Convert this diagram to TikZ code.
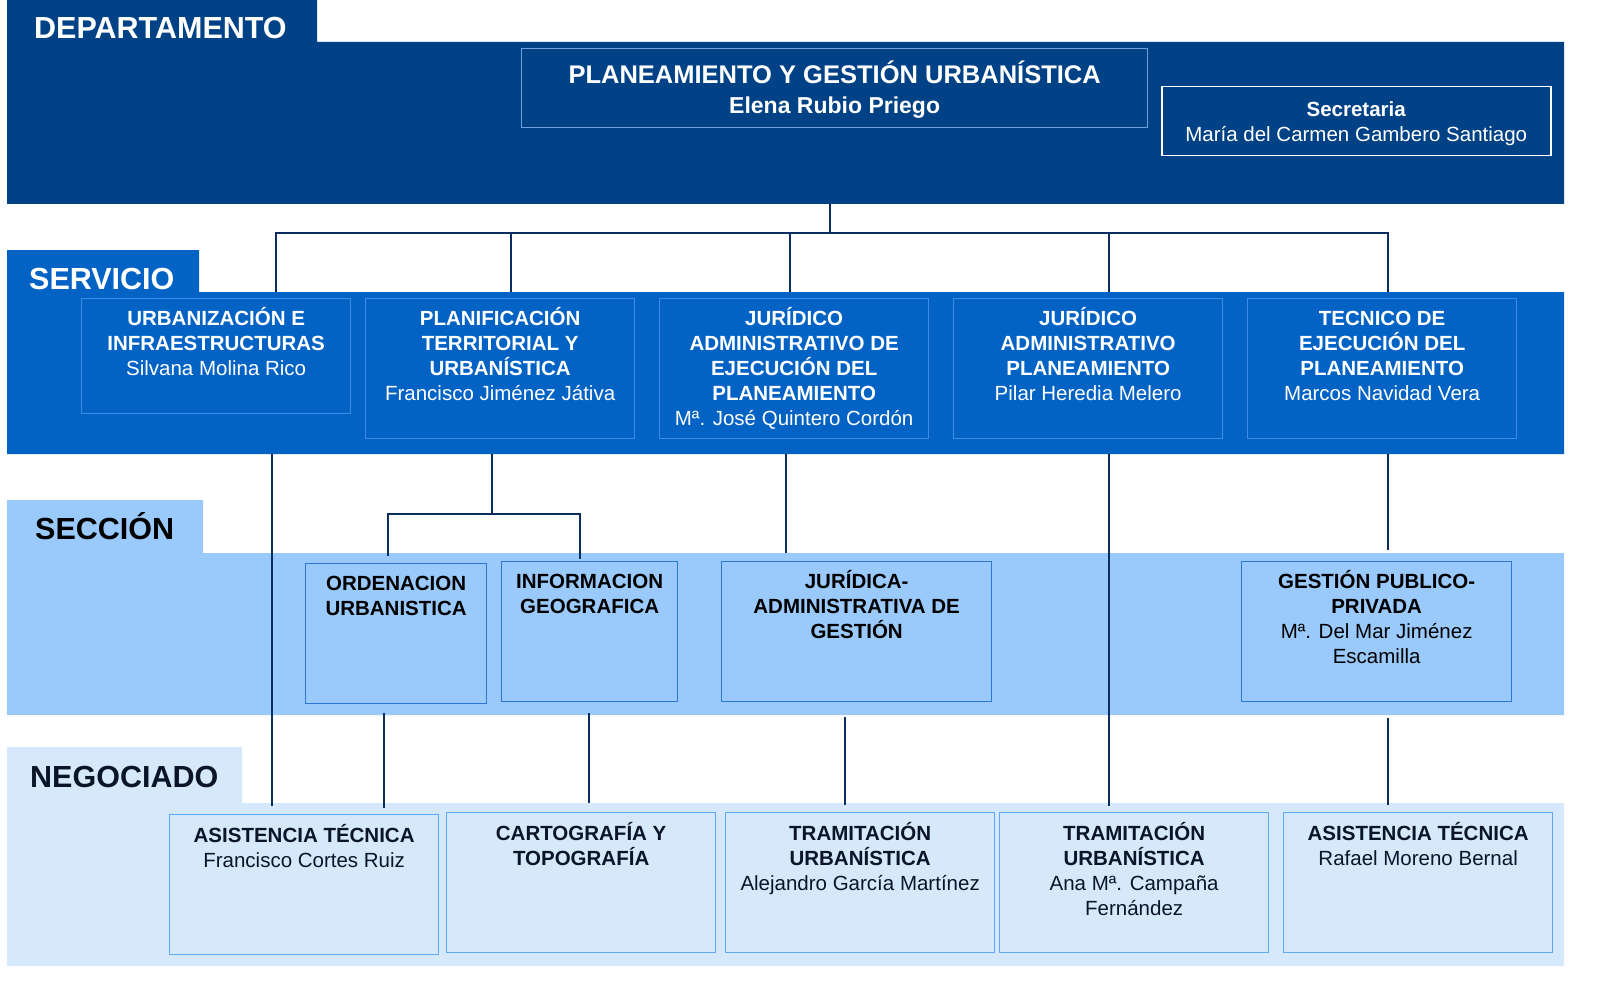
\documentclass[tikz,border=0pt]{standalone}
\usepackage{fontspec}
\setmainfont{Liberation Sans}
\definecolor{deptc}{RGB}{0,66,133}
\definecolor{servc}{RGB}{3,99,197}
\definecolor{seccc}{RGB}{153,202,251}
\definecolor{negoc}{RGB}{214,232,252}
\definecolor{linec}{RGB}{12,46,94}
\definecolor{servb}{RGB}{60,140,230}
\definecolor{seccb}{RGB}{45,120,215}
\definecolor{negob}{RGB}{95,168,245}
\definecolor{titleb}{RGB}{110,160,220}
\definecolor{negotext}{RGB}{10,22,40}
\newcommand{\bxt}[4]{\begin{minipage}[t][#2pt][t]{#1pt}\centering\rule{0pt}{#3pt}#4\end{minipage}}
\begin{document}
\begin{tikzpicture}[x=1pt,y=-1pt,
  bandlabel/.style={font=\fontsize{30.5}{34}\selectfont\bfseries, inner sep=0, anchor=base west},
  boxbase/.style={line width=1.3pt, inner sep=0, anchor=north west, font=\fontsize{20.5}{25}\selectfont},
  servbox/.style={boxbase, draw=servb, text=white},
  seccbox/.style={boxbase, draw=seccb, text=black},
  negobox/.style={boxbase, draw=negob, text=negotext},
  conn/.style={draw=linec, line width=2.4pt}]
\useasboundingbox (0,0) rectangle (1614,995);

% bands
\fill[deptc] (7,0) -- (317,0) -- (317,42) -- (1564,42) -- (1564,204) -- (7,204) -- cycle;
\fill[servc] (7,250) -- (199,250) -- (199,292) -- (1564,292) -- (1564,454) -- (7,454) -- cycle;
\fill[seccc] (7,500) -- (203,500) -- (203,553) -- (1564,553) -- (1564,715) -- (7,715) -- cycle;
\fill[negoc] (7,747) -- (242,747) -- (242,803) -- (1564,803) -- (1564,966) -- (7,966) -- cycle;

\node[bandlabel, text=white] (ldept) at (34,39) {DEPARTAMENTO};
\node[bandlabel, text=white] (lserv) at (29,289) {SERVICIO};
\node[bandlabel, text=black] (lsecc) at (35,539) {SECCIÓN};
\node[bandlabel, text=negotext] (lnego) at (30,787) {NEGOCIADO};

% department
\node[draw=titleb, line width=1.3pt, inner sep=0, anchor=north west, text=white] (top) at (521,48)
  {\begin{minipage}[t][79pt][t]{626pt}\centering\fontsize{25.5}{30}\selectfont\bfseries\rule{0pt}{35pt}PLANEAMIENTO Y GESTIÓN URBANÍSTICA\\{\fontsize{23}{30}\selectfont Elena Rubio Priego}\end{minipage}};
\node[draw=white, line width=1.5pt, inner sep=0, anchor=north west, text=white, font=\fontsize{20.5}{25}\selectfont] (secr) at (1161,86)
  {\bxt{389}{69}{29.3}{\textbf{Secretaria}\\María del Carmen Gambero Santiago}};

% connectors (drawn before boxes)
\coordinate (d0) at (830,204);
\coordinate (d1) at (830,233);
\coordinate (hl) at (276,233);
\coordinate (hr) at (1388,233);
\foreach \x/\n in {276/a,511/b,790/c,1109/d,1388/e}{
  \coordinate (t\n) at (\x,233);
  \coordinate (b\n) at (\x,292);
}
\draw[conn] (d0) -- (d1);
\draw[conn, line cap=rect] (hl) -- (hr);
\foreach \n in {a,b,c,d,e}{\draw[conn] (t\n) -- (b\n);}

% servicio -> seccion / negociado
\coordinate (s1a) at (272,454); \coordinate (s1b) at (272,806);
\coordinate (s2a) at (492,454); \coordinate (s2b) at (492,514);
\coordinate (s2l) at (388,514); \coordinate (s2r) at (580,514);
\coordinate (s2ld) at (388,556); \coordinate (s2rd) at (580,559);
\coordinate (s3a) at (786,454); \coordinate (s3b) at (786,553);
\coordinate (s4a) at (1109,454); \coordinate (s4b) at (1109,806);
\coordinate (s5a) at (1388,454); \coordinate (s5b) at (1388,550);
\draw[conn] (s1a) -- (s1b);
\draw[conn] (s2a) -- (s2b);
\draw[conn] (s2ld) -- (s2l) -- (s2r) -- (s2rd);
\draw[conn] (s3a) -- (s3b);
\draw[conn] (s4a) -- (s4b);
\draw[conn] (s5a) -- (s5b);

% seccion -> negociado
\coordinate (c1a) at (384,713); \coordinate (c1b) at (384,808);
\coordinate (c2a) at (589,713); \coordinate (c2b) at (589,803);
\coordinate (c3a) at (845,717); \coordinate (c3b) at (845,805);
\coordinate (c4a) at (1388,718); \coordinate (c4b) at (1388,805);
\draw[conn] (c1a) -- (c1b);
\draw[conn] (c2a) -- (c2b);
\draw[conn] (c3a) -- (c3b);
\draw[conn] (c4a) -- (c4b);

% servicio boxes
\node[servbox] (sv1) at (81,298) {\bxt{269}{115}{27.3}{\bfseries URBANIZACIÓN E\\INFRAESTRUCTURAS\\\mdseries Silvana Molina Rico}};
\node[servbox] (sv2) at (365,298) {\bxt{269}{140}{27.3}{\bfseries PLANIFICACIÓN\\TERRITORIAL Y\\URBANÍSTICA\\\mdseries Francisco Jiménez Játiva}};
\node[servbox] (sv3) at (659,298) {\bxt{269}{140}{27.3}{\bfseries JURÍDICO\\ADMINISTRATIVO DE\\EJECUCIÓN DEL\\PLANEAMIENTO\\\mdseries Mª. José Quintero Cordón}};
\node[servbox] (sv4) at (953,298) {\bxt{269}{140}{27.3}{\bfseries JURÍDICO\\ADMINISTRATIVO\\PLANEAMIENTO\\\mdseries Pilar Heredia Melero}};
\node[servbox] (sv5) at (1247,298) {\bxt{269}{140}{27.3}{\bfseries TECNICO DE\\EJECUCIÓN DEL\\PLANEAMIENTO\\\mdseries Marcos Navidad Vera}};

% seccion boxes
\node[seccbox] (sc1) at (305,563) {\bxt{181}{140}{27.3}{\bfseries ORDENACION\\URBANISTICA}};
\node[seccbox] (sc2) at (501,561) {\bxt{176}{140}{27.3}{\bfseries INFORMACION\\GEOGRAFICA}};
\node[seccbox] (sc3) at (721,561) {\bxt{270}{140}{27.3}{\bfseries JURÍDICA-\\ADMINISTRATIVA DE\\GESTIÓN}};
\node[seccbox] (sc4) at (1241,561) {\bxt{270}{140}{27.3}{\bfseries GESTIÓN PUBLICO-\\PRIVADA\\\mdseries Mª. Del Mar Jiménez\\Escamilla}};

% negociado boxes
\node[negobox] (ng1) at (169,814) {\bxt{269}{140}{28.3}{\bfseries ASISTENCIA TÉCNICA\\\mdseries Francisco Cortes Ruiz}};
\node[negobox] (ng2) at (446,812) {\bxt{269}{140}{28.3}{\bfseries CARTOGRAFÍA Y\\TOPOGRAFÍA}};
\node[negobox] (ng3) at (725,812) {\bxt{269}{140}{28.3}{\bfseries TRAMITACIÓN\\URBANÍSTICA\\\mdseries Alejandro García Martínez}};
\node[negobox] (ng4) at (999,812) {\bxt{269}{140}{28.3}{\bfseries TRAMITACIÓN\\URBANÍSTICA\\\mdseries Ana Mª. Campaña\\Fernández}};
\node[negobox] (ng5) at (1283,812) {\bxt{269}{140}{28.3}{\bfseries ASISTENCIA TÉCNICA\\\mdseries Rafael Moreno Bernal}};
\end{tikzpicture}
\end{document}
